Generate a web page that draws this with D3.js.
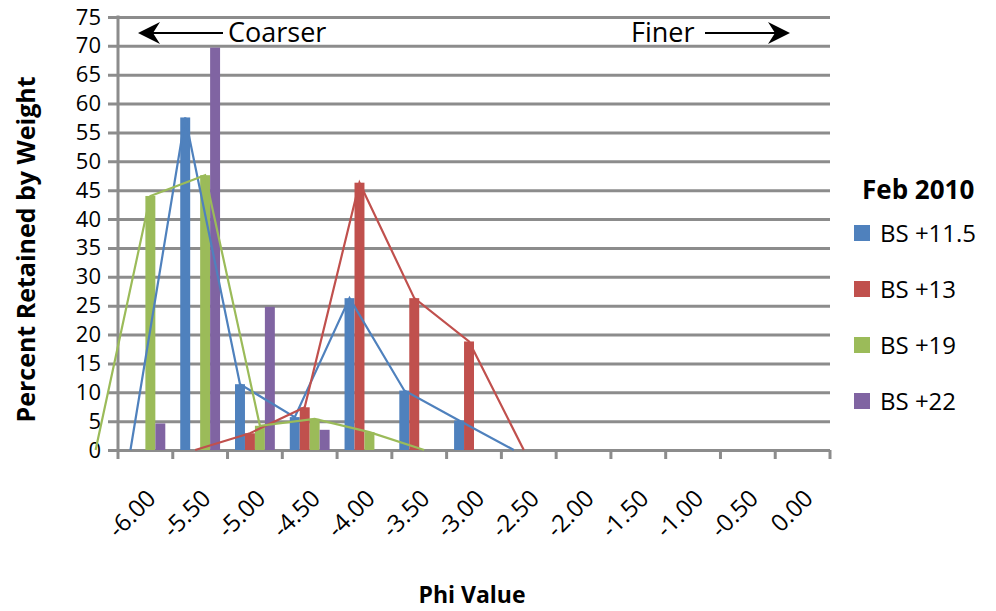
<!DOCTYPE html>
<html>
<head>
<meta charset="utf-8">
<script src="https://cdn.jsdelivr.net/npm/d3@7"></script>
<style>
  html, body { margin: 0; padding: 0; background: #fff; }
  svg { display: block; font-family: "Open Sans", sans-serif; }
</style>
</head>
<body>
<svg id="chart" width="996" height="611"></svg>
<script>
// Phi size classes on the category axis
const categories = ["-6.00", "-5.50", "-5.00", "-4.50", "-4.00", "-3.50", "-3.00",
                    "-2.50", "-2.00", "-1.50", "-1.00", "-0.50", "0.00"];

// Percent retained by weight, one value per phi class
const bs115 = [0, 57.6, 11.4, 5.7, 26.3, 10.3, 5.1, 0, 0, 0, 0, 0, 0];
const bs13  = [0, 0, 2.9, 7.4, 46.3, 26.3, 18.8, 0, 0, 0, 0, 0, 0];
const bs19  = [44.0, 47.6, 4.2, 5.4, 3.1, 0, 0, 0, 0, 0, 0, 0, 0];
const bs22  = [4.6, 69.7, 24.8, 3.5, 0, 0, 0, 0, 0, 0, 0, 0, 0];

// Distribution curves (phi, percent) drawn over the bars
const curve115Phi = [-6.0, -5.5, -5.0, -4.5, -4.0, -3.5, -3.0, -2.5];
const curve115Val = [0, 57.6, 11.4, 5.7, 26.3, 10.3, 5.1, 0];
const curve13Phi  = [-5.5, -5.0, -4.5, -4.0, -3.5, -3.0, -2.5];
const curve13Val  = [0, 2.9, 7.4, 46.3, 26.3, 18.8, 0];
const curve19Phi  = [-6.5, -6.0, -5.5, -5.0, -4.5, -4.0, -3.5];
const curve19Val  = [0, 44.0, 47.6, 4.2, 5.4, 3.1, 0];

const seriesNames = ["BS +11.5", "BS +13", "BS +19", "BS +22"];
const seriesColors = ["#4F81BD", "#C0504D", "#9BBB59", "#8064A2"];
const yTicks = d3.range(0, 80, 5);

const svg = d3.select("#chart");
const plot = { left: 118, right: 830, top: 17, bottom: 450 };
const gridColor = "#8c8c8c";

const x0 = d3.scaleBand().domain(categories).range([plot.left, plot.right]).paddingInner(0).paddingOuter(0);
const x1 = d3.scaleBand().domain(seriesNames).range([0, x0.bandwidth()]).paddingInner(0).paddingOuter(0.75);
const y = d3.scaleLinear().domain([0, 75]).range([plot.bottom, plot.top]);
// continuous phi -> category centre, used for the curves
const xPhi = d3.scaleLinear().domain([-6.0, 0.0])
  .range([x0("-6.00") + x0.bandwidth() / 2, x0("0.00") + x0.bandwidth() / 2]);

// Horizontal gridlines via the y axis
const yAxis = d3.axisLeft(y).tickValues(yTicks).tickSize(plot.right - plot.left + 10).tickFormat(d3.format("d")).tickPadding(8);
const gy = svg.append("g").attr("transform", `translate(${plot.right},0)`).call(yAxis);
gy.select(".domain").remove();
gy.selectAll(".tick line").attr("stroke", gridColor).attr("stroke-width", 3);
gy.selectAll(".tick text").attr("fill", "#000").attr("font-size", 22)
  .attr("font-family", "'Open Sans', sans-serif").attr("x", -(plot.right - plot.left) - 17);

// Vertical axis line
svg.append("line").attr("x1", plot.left).attr("x2", plot.left)
  .attr("y1", plot.top - 1.5).attr("y2", plot.bottom + 1.5)
  .attr("stroke", gridColor).attr("stroke-width", 3);

// Category axis with boundary ticks
const boundaries = categories.map(c => x0(c)).concat([plot.right]);
svg.append("g").selectAll("line").data(boundaries).join("line")
  .attr("x1", d => d).attr("x2", d => d).attr("y1", plot.bottom).attr("y2", plot.bottom + 9)
  .attr("stroke", gridColor).attr("stroke-width", 3);

svg.append("g").selectAll("text").data(categories).join("text")
  .attr("text-anchor", "end")
  .attr("font-size", 24)
  .attr("transform", d => `translate(${x0(d) + x0.bandwidth() / 2 + 6},${plot.bottom + 44}) rotate(-45)`)
  .attr("dy", "0.35em")
  .text(d => d);

// Bars
const barData = [bs115, bs13, bs19, bs22];
const groups = svg.append("g").selectAll("g").data(categories).join("g")
  .attr("transform", d => `translate(${x0(d)},0)`);
groups.selectAll("rect")
  .data((c, ci) => seriesNames.map((s, si) => ({ s, si, v: barData[si][ci] })))
  .join("rect")
  .attr("x", d => x1(d.s))
  .attr("width", x1.bandwidth())
  .attr("y", d => y(d.v))
  .attr("height", d => y(0) - y(d.v))
  .attr("fill", d => seriesColors[d.si]);

// Curves, aligned with each series' bar centres
const offset = si => x1(seriesNames[si]) + x1.bandwidth() / 2 - x0.bandwidth() / 2;
const curves = [
  { si: 0, phi: curve115Phi, val: curve115Val },
  { si: 1, phi: curve13Phi, val: curve13Val },
  { si: 2, phi: curve19Phi, val: curve19Val }
];
const line = d3.line().x(d => d[0]).y(d => d[1]);
svg.append("g").selectAll("path").data(curves).join("path")
  .attr("d", c => line(c.phi.map((p, i) => [xPhi(p) + offset(c.si), y(c.val[i])])))
  .attr("fill", "none")
  .attr("stroke", c => seriesColors[c.si])
  .attr("stroke-width", 2.2);

// Axis titles
svg.append("text")
  .attr("transform", `translate(35,${(plot.top + plot.bottom) / 2 + 16}) rotate(-90)`)
  .attr("text-anchor", "middle").attr("font-weight", "bold").attr("font-size", 25)
  .text("Percent Retained by Weight");
svg.append("text")
  .attr("x", 472).attr("y", 603)
  .attr("text-anchor", "middle").attr("font-weight", "bold").attr("font-size", 23)
  .text("Phi Value");

// Direction annotations
function arrow(xTail, xTip, yy) {
  const dir = Math.sign(xTip - xTail);
  svg.append("line").attr("x1", xTail).attr("x2", xTip - dir * 12).attr("y1", yy).attr("y2", yy)
    .attr("stroke", "#000").attr("stroke-width", 2);
  const p = d3.path();
  p.moveTo(xTip, yy);
  p.lineTo(xTip - dir * 22, yy - 11);
  p.lineTo(xTip - dir * 15, yy);
  p.lineTo(xTip - dir * 22, yy + 11);
  p.closePath();
  svg.append("path").attr("d", p.toString()).attr("fill", "#000");
}
arrow(223, 138, 33);
svg.append("text").attr("x", 228).attr("y", 42).attr("font-size", 27).text("Coarser");
svg.append("text").attr("x", 631).attr("y", 42).attr("font-size", 27).text("Finer");
arrow(705, 790, 33);

// Legend
const legend = svg.append("g");
legend.append("text").attr("x", 862).attr("y", 199).attr("font-weight", "bold").attr("font-size", 26).text("Feb 2010");
const items = legend.selectAll("g").data(seriesNames).join("g")
  .attr("transform", (d, i) => `translate(854,${233 + i * 56})`);
items.append("rect").attr("x", 0).attr("y", -8).attr("width", 16).attr("height", 16)
  .attr("fill", (d, i) => seriesColors[i]);
items.append("text").attr("x", 26).attr("y", 9).attr("font-size", 24).text(d => d);
</script>
</body>
</html>
